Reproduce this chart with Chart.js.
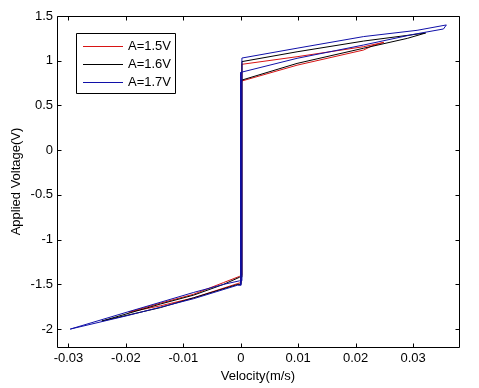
<!DOCTYPE html>
<html><head><meta charset="utf-8">
<script src="https://cdn.jsdelivr.net/npm/chart.js@4.4.1/dist/chart.umd.min.js"></script>
<style>html,body{margin:0;padding:0;background:#fff;}canvas{display:block;}</style>
</head><body>
<canvas id="c" width="479" height="388"></canvas>
<script>
// ---- data ----
const seriesLabels = ['A=1.5V', 'A=1.6V', 'A=1.7V'];
const seriesColors = ['#d81414', '#000000', '#1010a8'];

// A=1.5V loop: velocity (m/s) and applied voltage (V)
const velocity15 = [0.0002, 0.0002, 0.0098, 0.0214, 0.0249, 0.023, 0.0214, 0.0098, 0, 0, -0.0005, -0.0082, -0.014, -0.0195, -0.014, -0.0082, -0.003, -0.0002, 0.0002];
const voltage15  = [-1.40, 0.96, 1.045, 1.157, 1.205, 1.17, 1.12, 0.95, 0.77, -1.48, -1.49, -1.65, -1.74, -1.81, -1.71, -1.61, -1.48, -1.41, -1.40];

// A=1.6V loop
const velocity16 = [0.0002, 0.0002, 0.0098, 0.0214, 0.0322, 0.029, 0.0214, 0.0098, 0, 0, -0.0005, -0.0082, -0.014, -0.0242, -0.014, -0.0082, -0.003, -0.0002, 0.0002];
const voltage16  = [-1.42, 0.99, 1.10, 1.22, 1.31, 1.25, 1.14, 0.97, 0.78, -1.50, -1.50, -1.65, -1.76, -1.91, -1.72, -1.62, -1.50, -1.42, -1.42];

// A=1.7V loop
const velocity17 = [0.0002, 0.0002, 0.0098, 0.0214, 0.0307, 0.0358, 0.0353, 0.0301, 0.0214, 0.0098, 0, 0, -0.0006, -0.0082, -0.0198, -0.0297, -0.0198, -0.0082, -0.003, -0.0002, 0.0002];
const voltage17  = [-1.46, 1.03, 1.14, 1.27, 1.34, 1.40, 1.355, 1.295, 1.176, 1.027, 0.87, -1.51, -1.51, -1.66, -1.85, -2.00, -1.81, -1.59, -1.50, -1.46, -1.46];

const xTicks = [-0.03, -0.02, -0.01, 0, 0.01, 0.02, 0.03];
const xTickLabels = ['-0.03', '-0.02', '-0.01', '0', '0.01', '0.02', '0.03'];
const yTicks = [-2, -1.5, -1, -0.5, 0, 0.5, 1, 1.5];
const yTickLabels = ['-2', '-1.5', '-1', '-0.5', '0', '0.5', '1', '1.5'];
const xRange = [-0.032, 0.038];
const yRange = [-2.2, 1.5];
const xTitle = 'Velocity(m/s)';
const yTitle = 'Applied Voltage(V)';

// ---- build ----
const FONT = "'Liberation Sans', Arial, sans-serif";
function pts(v, u) { return v.map((x, i) => ({ x: x, y: u[i] })); }
const allSeries = [[velocity15, voltage15], [velocity16, voltage16], [velocity17, voltage17]];
const datasets = allSeries.map((s, i) => ({
  label: seriesLabels[i],
  data: pts(s[0], s[1]),
  borderColor: seriesColors[i],
  backgroundColor: seriesColors[i],
  borderWidth: 1,
  pointRadius: 0,
  showLine: true,
  tension: 0,
  fill: false,
  order: 3 - i
}));

const boxPlugin = {
  id: 'matlabBox',
  afterDraw(chart) {
    const ctx = chart.ctx, a = chart.chartArea;
    const xs = chart.scales.x, ys = chart.scales.y;
    const L = Math.round(a.left) + 0.5, R = Math.round(a.right) + 0.5;
    const T = Math.round(a.top) + 0.5, B = Math.round(a.bottom) + 0.5;
    ctx.save();
    ctx.strokeStyle = '#000';
    ctx.lineWidth = 1;
    ctx.beginPath();
    ctx.rect(L, T, R - L, B - T);
    const tl = 4;
    xTicks.forEach(v => {
      const px = Math.round(xs.getPixelForValue(v)) + 0.5;
      ctx.moveTo(px, B); ctx.lineTo(px, B - tl);
      ctx.moveTo(px, T); ctx.lineTo(px, T + tl);
    });
    yTicks.forEach(v => {
      const py = Math.round(ys.getPixelForValue(v)) + 0.5;
      ctx.moveTo(L, py); ctx.lineTo(L + tl, py);
      ctx.moveTo(R, py); ctx.lineTo(R - tl, py);
    });
    ctx.stroke();

    // legend box (inside axes, upper left)
    const lx = 76, ly = 33, lw = 99, lh = 60;
    ctx.fillStyle = '#fff';
    ctx.fillRect(lx, ly, lw, lh);
    ctx.beginPath();
    ctx.rect(lx + 0.5, ly + 0.5, lw, lh);
    ctx.stroke();
    ctx.font = '13px ' + FONT;
    ctx.textBaseline = 'middle';
    ctx.textAlign = 'left';
    chart.data.datasets.forEach((ds, i) => {
      const ry = 45.5 + i * 18.2;
      const yy = Math.round(ry) + 0.5;
      ctx.strokeStyle = ds.borderColor;
      ctx.beginPath();
      ctx.moveTo(83, yy); ctx.lineTo(123, yy);
      ctx.stroke();
      ctx.fillStyle = '#000';
      ctx.fillText(ds.label, 128, ry + 0.5);
    });
    ctx.restore();
  }
};

new Chart(document.getElementById('c'), {
  type: 'scatter',
  data: { datasets: datasets },
  plugins: [boxPlugin],
  options: {
    responsive: false,
    animation: false,
    devicePixelRatio: 1,
    layout: { padding: { top: 16, right: 20, left: 0, bottom: 0 } },
    plugins: { legend: { display: false }, tooltip: { enabled: false } },
    scales: {
      x: {
        type: 'linear', min: xRange[0], max: xRange[1],
        afterFit: s => { s.height = 41; },
        afterBuildTicks: s => { s.ticks = xTicks.map(v => ({ value: v })); },
        grid: { display: false, drawTicks: false },
        border: { display: false },
        ticks: {
          autoSkip: false, maxRotation: 0, padding: 4, color: '#000',
          font: { family: FONT, size: 13 },
          callback: (v) => { const k = xTicks.findIndex(t => Math.abs(t - v) < 1e-9); return k >= 0 ? xTickLabels[k] : ''; }
        },
        title: { display: true, text: xTitle, color: '#000', font: { family: FONT, size: 13 }, padding: { top: 0, bottom: 4 } }
      },
      y: {
        type: 'linear', min: yRange[0], max: yRange[1],
        afterFit: s => { s.width = 57; },
        afterBuildTicks: s => { s.ticks = yTicks.map(v => ({ value: v })); },
        grid: { display: false, drawTicks: false },
        border: { display: false },
        ticks: {
          autoSkip: false, padding: 4, color: '#000',
          font: { family: FONT, size: 13 },
          callback: (v) => { const k = yTicks.findIndex(t => Math.abs(t - v) < 1e-9); return k >= 0 ? yTickLabels[k] : ''; }
        },
        title: { display: true, text: yTitle, color: '#000', font: { family: FONT, size: 13 }, padding: { top: 9, bottom: 0 } }
      }
    }
  }
});
</script>
</body></html>
